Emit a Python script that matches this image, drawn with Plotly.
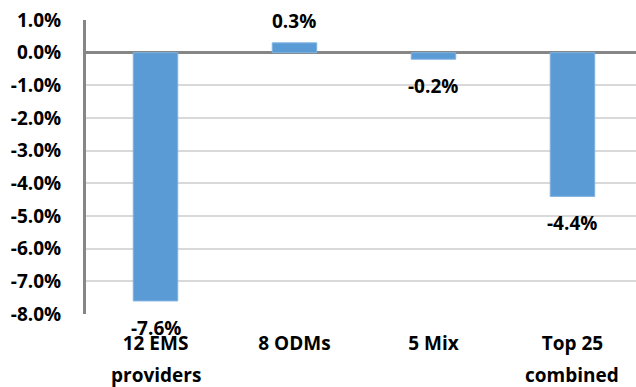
import plotly.graph_objects as go

# Categories (first and second line of each axis label) and growth values in %
line1 = ["12 EMS", "8 ODMs", "5 Mix", "Top 25"]
line2 = ["providers", "", "", "combined"]
values = [-7.6, 0.3, -0.2, -4.4]
value_text = ["-7.6%", "0.3%", "-0.2%", "-4.4%"]

y_ticks = [1, 0, -1, -2, -3, -4, -5, -6, -7, -8]
y_tick_text = ["1.0%", "0.0%", "-1.0%", "-2.0%", "-3.0%", "-4.0%",
               "-5.0%", "-6.0%", "-7.0%", "-8.0%"]

FONT = "Open Sans"
SIZE = 19
BLUE = "#5b9bd5"
x = list(range(len(values)))


def bold(size=SIZE):
    return dict(family=FONT, size=size, color="#000000", weight=700)


fig = go.Figure(
    go.Bar(
        x=x,
        y=values,
        marker=dict(color=BLUE, line=dict(color="#7fb2e0", width=1)),
        width=0.32,
        hoverinfo="skip",
    )
)

# Value labels just beyond the end of each bar
for xi, v, t in zip(x, values, value_text):
    fig.add_annotation(
        x=xi, y=v, text=t, showarrow=False,
        yshift=22 if v >= 0 else -27,
        font=bold(),
    )

# Second line of the category labels
for xi, t in zip(x, line2):
    if t:
        fig.add_annotation(
            x=xi, y=0, xref="x", yref="paper", text=t,
            showarrow=False, yshift=-61, yanchor="middle",
            font=bold(),
        )

fig.update_layout(
    width=636, height=387,
    margin=dict(l=86, r=0, t=20, b=73),
    plot_bgcolor="white", paper_bgcolor="white",
    showlegend=False,
    font=bold(),
    xaxis=dict(
        range=[-0.5, 3.457],
        tickvals=x,
        ticktext=line1,
        showgrid=False, zeroline=False, showline=False,
        ticks="", ticklabelstandoff=16,
        tickfont=bold(),
    ),
    yaxis=dict(
        range=[-8, 1],
        tickvals=y_ticks,
        ticktext=y_tick_text,
        showgrid=True, gridcolor="#d9d9d9", gridwidth=2,
        zeroline=True, zerolinecolor="#868686", zerolinewidth=3,
        showline=True, linecolor="#868686", linewidth=3,
        ticks="", ticklabelstandoff=18,
        tickfont=bold(),
    ),
)

fig.write_html("out.html")
